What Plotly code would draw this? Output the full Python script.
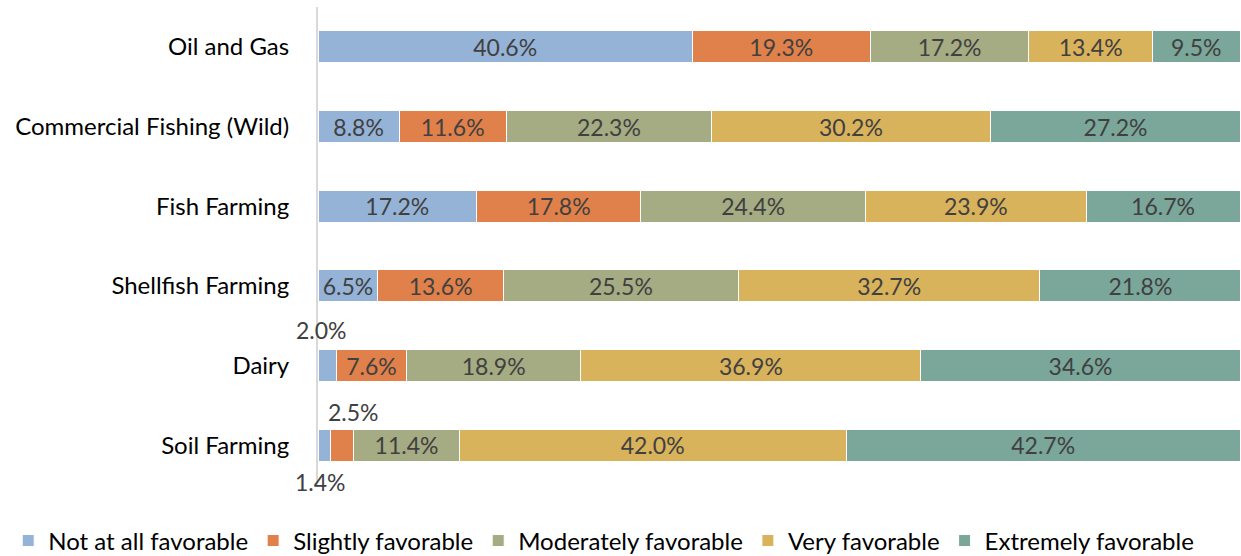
import plotly.graph_objects as go

categories = ["Oil and Gas", "Commercial Fishing (Wild)", "Fish Farming",
              "Shellfish Farming", "Dairy", "Soil Farming"]
series_names = ["Not at all favorable", "Slightly favorable", "Moderately favorable",
                "Very favorable", "Extremely favorable"]
not_at_all = [40.6, 8.8, 17.2, 6.5, 2.0, 1.4]
slightly = [19.3, 11.6, 17.8, 13.6, 7.6, 2.5]
moderately = [17.2, 22.3, 24.4, 25.5, 18.9, 11.4]
very = [13.4, 30.2, 23.9, 32.7, 36.9, 42.0]
extremely = [9.5, 27.2, 16.7, 21.8, 34.6, 42.7]
colors = ["#95B3D7", "#E0804A", "#A5AB82", "#D9B25C", "#7BA69A"]

series_values = [not_at_all, slightly, moderately, very, extremely]
FONT = "Lato"
FS = 23        # data labels
FS_AXIS = 24   # category labels and legend
MIN_INSIDE = 5.0  # segments narrower than this get an outside annotation

fig = go.Figure()
for name, vals, col in zip(series_names, series_values, colors):
    texts = [f"{v:.1f}%" if v >= MIN_INSIDE else "" for v in vals]
    fig.add_trace(go.Bar(
        y=categories, x=vals, name=name, orientation="h",
        marker=dict(color=col, line=dict(color="white", width=1)),
        text=texts, textposition="inside", insidetextanchor="middle",
        textfont=dict(family=FONT, size=FS, color="#404040"),
        constraintext="none", hoverinfo="skip",
    ))

# small segments labelled outside the bar
for ci, cat in enumerate(categories):
    left = 0.0
    small = []
    for si, vals in enumerate(series_values):
        v = vals[ci]
        if v < MIN_INSIDE:
            small.append((left + v / 2, v))
        left += v
    for k, (xc, v) in enumerate(small):
        # a lone small segment goes above; with two, the first goes below
        if len(small) > 1 and k == 0:
            yshift, xshift = -37, -4
        elif len(small) > 1:
            yshift, xshift = 33, 11
        else:
            yshift, xshift = 36, -6
        fig.add_annotation(
            x=xc, y=cat, text=f"{v:.1f}%", showarrow=False,
            yshift=yshift, xshift=xshift,
            xanchor="center", font=dict(family=FONT, size=FS, color="#404040"),
        )

fig.update_layout(
    barmode="stack", bargap=0.6,
    width=1241, height=556,
    margin=dict(l=318, r=1, t=7, b=71, autoexpand=False),
    plot_bgcolor="white", paper_bgcolor="white",
    font=dict(family=FONT, size=FS_AXIS, color="#000000"),
    showlegend=True,
    legend=dict(orientation="h", x=-0.336, xanchor="left",
                y=-0.117, yanchor="middle",
                font=dict(family=FONT, size=FS_AXIS, color="#000000"),
                traceorder="normal", itemwidth=30),
    uniformtext=dict(mode=False),
)
fig.update_xaxes(range=[0, 100], visible=False, showgrid=False, zeroline=False)
fig.update_yaxes(range=[len(categories) - 0.5, -0.5], showline=True,
                 linecolor="#D9D9D9", linewidth=2,
                 ticks="", ticklabelstandoff=22, showgrid=False,
                 tickfont=dict(family=FONT, size=FS_AXIS, color="#000000"))
fig.write_html("out.html")
